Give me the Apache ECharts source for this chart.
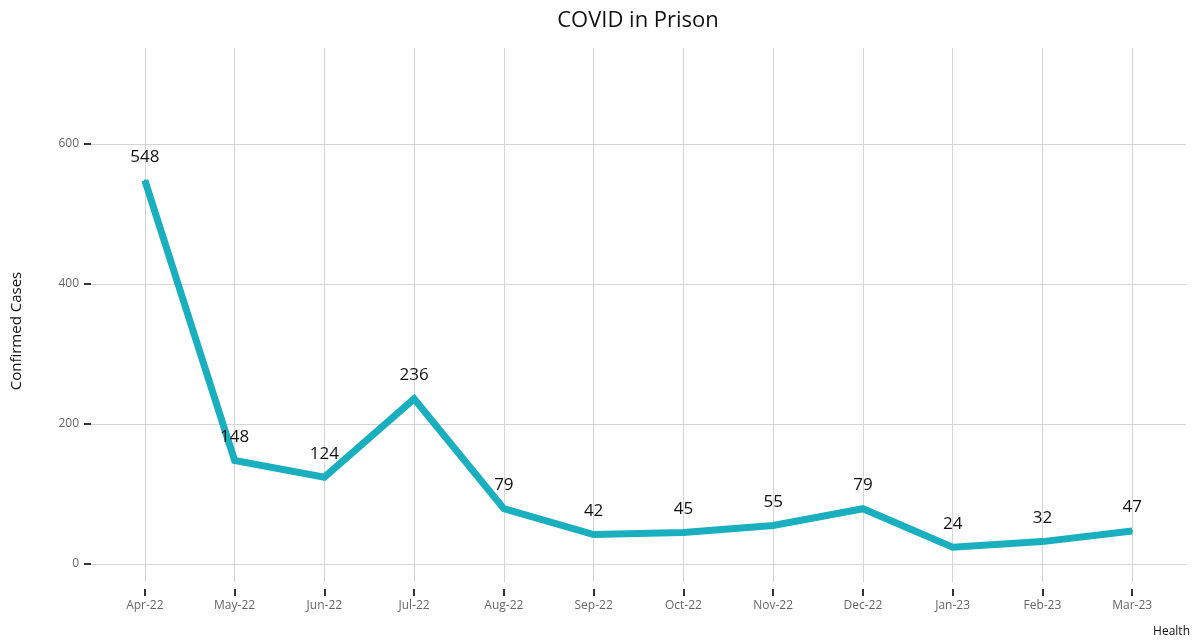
<!DOCTYPE html>
<html>
<head>
<meta charset="utf-8">
<title>COVID in Prison</title>
<script src="https://cdn.jsdelivr.net/npm/echarts@6/dist/echarts.min.js"></script>
<style>
  html, body { margin: 0; padding: 0; background: #ffffff; }
  #chart { width: 1192px; height: 641px; }
</style>
</head>
<body>
<div id="chart"></div>
<script>
// Monthly confirmed COVID cases in prison
const months = ['Apr-22', 'May-22', 'Jun-22', 'Jul-22', 'Aug-22', 'Sep-22',
                'Oct-22', 'Nov-22', 'Dec-22', 'Jan-23', 'Feb-23', 'Mar-23'];
const cases = [548, 148, 124, 236, 79, 42, 45, 55, 79, 24, 32, 47];
const yTicks = [0, 200, 400, 600];

const FONT = '"Open Sans", "Noto Sans", sans-serif';
const monthIdx = months.map((_, i) => i);

const chart = echarts.init(document.getElementById('chart'), null, { renderer: 'canvas' });

chart.setOption({
  backgroundColor: '#ffffff',
  animation: false,
  textStyle: { fontFamily: FONT },
  grid: { left: 91, right: 6, top: 48, bottom: 59, containLabel: false },
  xAxis: {
    type: 'value',
    min: -0.6,
    max: 11.6,
    position: 'bottom',
    offset: 7,
    axisLine: { show: false, onZero: false },
    axisTick: {
      show: true, customValues: monthIdx, length: 7, inside: false,
      lineStyle: { color: '#333333', width: 2 }
    },
    axisLabel: {
      customValues: monthIdx,
      formatter: v => months[Math.round(v)],
      color: '#666666', fontSize: 12, margin: 11, fontFamily: FONT
    },
    splitLine: {
      show: true, customValues: monthIdx,
      lineStyle: { color: '#d4d4d4', width: 1 }
    }
  },
  yAxis: {
    type: 'value',
    min: -25.7,
    max: 737,
    position: 'left',
    axisLine: { show: false, onZero: false },
    axisTick: {
      show: true, customValues: yTicks, length: 7,
      lineStyle: { color: '#333333', width: 2 }
    },
    axisLabel: {
      customValues: yTicks,
      color: '#666666', fontSize: 12, margin: 12, fontFamily: FONT
    },
    splitLine: {
      show: true, customValues: yTicks,
      lineStyle: { color: '#d4d4d4', width: 1 }
    }
  },
  series: [{
    type: 'line',
    data: cases.map((v, i) => [i, v]),
    showSymbol: true,
    symbol: 'circle',
    symbolSize: 2,
    itemStyle: { color: '#1aafbf' },
    lineStyle: { color: '#1aafbf', width: 7, cap: 'butt', join: 'miter' },
    label: {
      show: true,
      position: 'top',
      distance: 14,
      formatter: p => String(p.value[1]),
      color: '#111111',
      fontSize: 17,
      fontFamily: FONT
    },
    labelLayout: { hideOverlap: false },
    emphasis: { disabled: true }
  }],
  graphic: [
    {
      type: 'text', x: 638, y: 21,
      style: {
        text: 'COVID in Prison', fill: '#111111', fontSize: 22, fontFamily: FONT,
        textAlign: 'center', textVerticalAlign: 'middle'
      }
    },
    {
      type: 'text', x: 17, y: 331, rotation: Math.PI / 2,
      style: {
        text: 'Confirmed Cases', fill: '#111111', fontSize: 15, fontFamily: FONT,
        textAlign: 'center', textVerticalAlign: 'middle'
      }
    },
    {
      type: 'text', x: 1190, y: 632,
      style: {
        text: 'Health', fill: '#111111', fontSize: 12, fontFamily: FONT,
        textAlign: 'right', textVerticalAlign: 'middle'
      }
    }
  ]
});
</script>
</body>
</html>
